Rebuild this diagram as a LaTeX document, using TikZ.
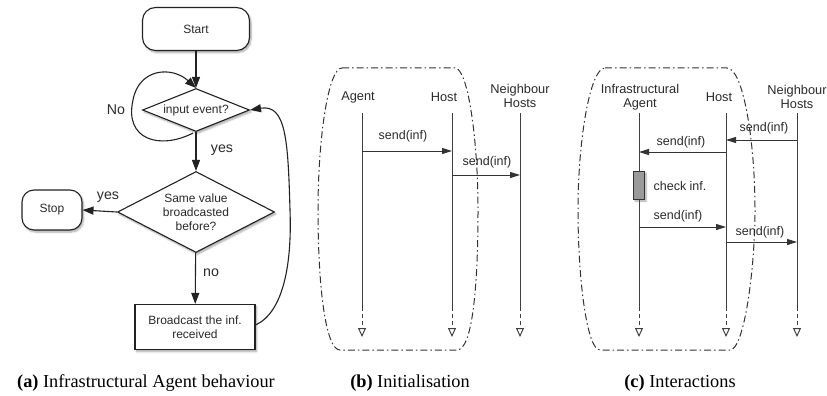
\documentclass[tikz,border=0pt]{standalone}
\usepackage{fontspec}
\setmainfont{Liberation Serif}
\newfontfamily\diagfont{Liberation Sans}
\usetikzlibrary{arrows.meta,shapes.geometric,shadows.blur}

\definecolor{ink}{HTML}{222222}
\definecolor{txt}{HTML}{2A2A2A}
\definecolor{actfill}{HTML}{9A9A9A}

\begin{document}
\begin{tikzpicture}[x=1pt,y=-1pt,
  soft/.style={blur shadow={shadow xshift=1.5pt, shadow yshift=-2pt,
      shadow blur steps=6, shadow opacity=35}},
  fsmall/.style={font=\diagfont\fontsize{12}{14}\selectfont, text=txt},
  fbig/.style={font=\diagfont\fontsize{14.2}{16}\selectfont, text=txt},
  fseq/.style={font=\diagfont\fontsize{12.8}{14}\selectfont, text=txt},
  fmsg/.style={font=\diagfont\fontsize{12.5}{14}\selectfont, text=txt},
  terminal/.style={draw=ink, line width=1.1pt, rounded corners=13pt,
      fill=white, soft, fsmall, inner sep=0pt},
  decision/.style={diamond, draw=ink, line width=1.1pt, fill=white, soft,
      fsmall, align=center, inner sep=0pt},
  process/.style={draw=ink, line width=1.1pt, fill=white, soft, fsmall,
      align=center, inner sep=0pt},
  flow/.style={draw=ink, line width=1.1pt,
      -{Triangle[length=11pt,width=8pt]}},
  lifeline/.style={draw=black!75, line width=1pt},
  lifeend/.style={draw=black!75, line width=1pt, dash pattern=on 4pt off 3pt,
      -{Triangle[open,length=9pt,width=8pt]}},
  msg/.style={draw=black!80, line width=1pt,
      -{Triangle[length=10pt,width=6pt]}},
  frame/.style={draw=black!80, line width=1pt,
      dash pattern=on 7pt off 3pt on 1.5pt off 3pt},
  actbox/.style={draw=black!80, line width=1pt, fill=actfill, soft,
      minimum width=11pt, minimum height=28pt, inner sep=0pt},
  caption/.style={font=\fontsize{18.3}{20}\selectfont, text=black}
]
\useasboundingbox (0,0) rectangle (827,396);

% ---------------- (a) flowchart ----------------
\node[terminal, minimum width=107pt, minimum height=43pt] (start) at (196,29) {Start};
\node[decision, aspect=2.5, minimum width=107pt, minimum height=43pt] (input) at (196,110) {input event?};
\node[decision, aspect=1.95, minimum width=157pt, minimum height=81pt] (same) at (196,212)
  {Same value\\broadcasted\\before?};
\node[terminal, rounded corners=12pt, minimum width=60pt, minimum height=40pt] (stop) at (52,210) {Stop};
\node[process, minimum width=120pt, minimum height=45pt] (bcast) at (195,327)
  {Broadcast the inf.\\received};

\draw[flow] (start) -- (input);
\draw[flow] (input) -- (same);
\draw[flow] (same.west) -- (stop.east);
\draw[flow] (same) -- (bcast);
% waiting loop back into the first test
\draw[flow] (input.south) ++(-3,1) coordinate (loopA)
  .. controls (160,150) and (124,140) .. (133,100)
  .. controls (139,68) and (172,66) .. (input.north);
% return from broadcasting to the first test
\draw[flow] (bcast.east) ++(0,-2) coordinate (retA)
  .. controls (284,312) and (292,262) .. (290,210)
  .. controls (288,140) and (286,104) .. (input.east);

\node[fbig] (lno) at (116,110) {No};
\node[fbig] (lyes1) at (222,150) {yes};
\node[fbig] (lyes2) at (108,197) {yes};
\node[fbig] (lno2) at (211,273) {no};

\node[caption] (capA) at (146,383) {\textbf{(a)} Infrastructural Agent behaviour};

% ---------------- (b) initialisation ----------------
\draw[frame] (342,68) -- (455,68)
  .. controls (468,68) and (478,140) .. (478,210)
  .. controls (478,290) and (472,350) .. (457,350) -- (340,350)
  .. controls (326,350) and (318,290) .. (318,210)
  .. controls (318,140) and (328,68) .. (342,68) -- cycle;

\node[fseq] (bAgent) at (358,97) {Agent};
\node[fseq] (bHost) at (444,97) {Host};
\node[fseq, align=center] (bNeigh) at (520,96) {Neighbour\\Hosts};

\coordinate (bAt) at (362,113); \coordinate (bAm) at (362,307); \coordinate (bAe) at (362,337);
\coordinate (bHt) at (452,113); \coordinate (bHm) at (452,307); \coordinate (bHe) at (452,337);
\coordinate (bNt) at (520,113); \coordinate (bNm) at (520,307); \coordinate (bNe) at (520,337);
\draw[lifeline] (bAt) -- (bAm); \draw[lifeend] (bAm) -- (bAe);
\draw[lifeline] (bHt) -- (bHm); \draw[lifeend] (bHm) -- (bHe);
\draw[lifeline] (bNt) -- (bNm); \draw[lifeend] (bNm) -- (bNe);

\coordinate (b1s) at (362,151); \coordinate (b1e) at (452,151);
\coordinate (b2s) at (452,175); \coordinate (b2e) at (520,175);
\draw[msg] (b1s) -- (b1e);
\draw[msg] (b2s) -- (b2e);
\node[fmsg] (b1l) at (403,136) {send(inf)};
\node[fmsg] (b2l) at (487,162) {send(inf)};

\node[caption] (capB) at (410,383) {\textbf{(b)} Initialisation};

% ---------------- (c) interactions ----------------
\draw[frame] (605,68) -- (727,68)
  .. controls (743,68) and (755,140) .. (755,210)
  .. controls (755,270) and (744,350) .. (730,350) -- (600,350)
  .. controls (587,350) and (578,280) .. (578,210)
  .. controls (578,140) and (590,68) .. (605,68) -- cycle;

\node[fseq, align=center] (cAgent) at (640,97) {Infrastructural\\Agent};
\node[fseq] (cHost) at (719,97) {Host};
\node[fseq, align=center] (cNeigh) at (797,97) {Neighbour\\Hosts};

\node[actbox] (act) at (639,185) {};
\coordinate (cAt) at (639,113); \coordinate (cAm) at (639,307); \coordinate (cAe) at (639,337);
\coordinate (cHt) at (726,113); \coordinate (cHm) at (726,307); \coordinate (cHe) at (726,337);
\coordinate (cNt) at (797,113); \coordinate (cNm) at (797,307); \coordinate (cNe) at (797,337);
\draw[lifeline] (cAt) -- (act.north);
\draw[lifeline] (act.south) -- (cAm); \draw[lifeend] (cAm) -- (cAe);
\draw[lifeline] (cHt) -- (cHm); \draw[lifeend] (cHm) -- (cHe);
\draw[lifeline] (cNt) -- (cNm); \draw[lifeend] (cNm) -- (cNe);

\coordinate (c1s) at (797,140); \coordinate (c1e) at (726,140);
\coordinate (c2s) at (726,152); \coordinate (c2e) at (639,152);
\coordinate (c3s) at (639,227); \coordinate (c3e) at (726,227);
\coordinate (c4s) at (726,242); \coordinate (c4e) at (797,242);
\draw[msg] (c1s) -- (c1e);
\draw[msg] (c2s) -- (c2e);
\draw[msg] (c3s) -- (c3e);
\draw[msg] (c4s) -- (c4e);
\node[fmsg] (c1l) at (764,128) {send(inf)};
\node[fmsg] (c2l) at (681,142) {send(inf)};
\node[fmsg] (chk) at (680,186) {check inf.};
\node[fmsg] (c3l) at (678,216) {send(inf)};
\node[fmsg] (c4l) at (760,232) {send(inf)};

\node[caption] (capC) at (680,383) {\textbf{(c)} Interactions};
\end{tikzpicture}
\end{document}
